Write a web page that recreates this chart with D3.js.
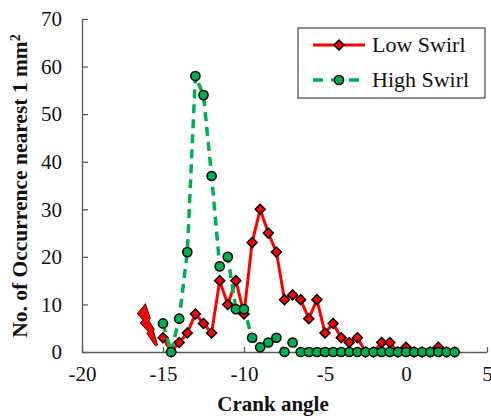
<!DOCTYPE html>
<html><head><meta charset="utf-8">
<script src="https://cdn.jsdelivr.net/npm/d3@7"></script>
<style>
html,body{margin:0;padding:0;background:#fff;}
svg{display:block;}
svg text{font-family:"Liberation Serif","Times New Roman",Tinos,"DejaVu Serif","Noto Serif",serif !important;}
</style></head>
<body>
<svg id="chart" width="491" height="416"></svg>
<script>
// Data
const crankAngles = [-15,-14.5,-14,-13.5,-13,-12.5,-12,-11.5,-11,-10.5,-10,-9.5,-9,-8.5,-8,-7.5,-7,-6.5,-6,-5.5,-5,-4.5,-4,-3.5,-3,-2.5,-2,-1.5,-1,-0.5,0,0.5,1,1.5,2,2.5,3];
const lowSwirl  = [3,0,2,4,8,6,4,15,10,15,8,23,30,25,21,11,12,11,7,11,4,6,3,2,3,0,0,2,2,0,1,0,0,0,1,0,0];
const highSwirl = [6,0,7,21,58,54,37,18,20,9,9,3,1,2,3,0,2,0,0,0,0,0,0,0,0,0,0,0,0,0,0,0,0,0,0,0,0];
// leading zig-zag fragment of the Low Swirl series (outline of the overlapped marks)
const lowLeadX = [-16.11,-16.48,-16.13,-16.30,-15.80,-15.90,-15.40,-15.66,-15.62,-15.97,-15.86];
const lowLeadY = [9.6,8.1,6.72,6.09,4.3,3.9,1.4,4.3,4.77,6.58,7.08];
const xTicks = [-20,-15,-10,-5,0,5];
const yTicks = [0,10,20,30,40,50,60,70];
const seriesNames = ["Low Swirl","High Swirl"];

const svg = d3.select("#chart");
const x = d3.scaleLinear().domain([-20,5]).range([82,487]);
const y = d3.scaleLinear().domain([0,70]).range([352,19]);
const axisColor = "#595959";
const red = "#ff0000", green = "#00b050";

// axes
const gx = svg.append("g").attr("transform",`translate(0,${y(0)})`)
  .call(d3.axisBottom(x).tickValues(xTicks).tickSizeInner(-5).tickSizeOuter(0).tickPadding(14).tickFormat(d=>String(d)));
const gy = svg.append("g").attr("transform",`translate(${x(-20)},0)`)
  .call(d3.axisLeft(y).tickValues(yTicks).tickSizeInner(-6).tickSizeOuter(0).tickPadding(20).tickFormat(d=>String(d)));
[gx,gy].forEach(g=>{
  g.attr("font-family",null);
  g.selectAll("path,line").attr("stroke",axisColor).attr("stroke-width",1.3);
  g.selectAll("text").attr("fill","#111").style("font-size","21px");
});

// axis titles
svg.append("text").attr("x",273).attr("y",411).attr("text-anchor","middle")
  .style("font-size","21px").style("font-weight","bold").attr("fill","#111").text("Crank angle");
const yt = svg.append("text").attr("transform","translate(27,186) rotate(-90)").attr("text-anchor","middle")
  .style("font-size","21.5px").style("font-weight","bold").attr("fill","#111");
yt.append("tspan").text("No. of Occurrence nearest 1 mm");
yt.append("tspan").attr("dy","-7").style("font-size","14px").text("2");

const lowData = crankAngles.map((c,i)=>[c,lowSwirl[i]]);
const highData = crankAngles.map((c,i)=>[c,highSwirl[i]]);
const leadData = lowLeadX.map((c,i)=>[c,lowLeadY[i]]);
const line = d3.line().x(d=>x(d[0])).y(d=>y(d[1]));

// low swirl lead fragment
svg.append("path").attr("d",line(leadData)+"Z")
  .attr("fill",red).attr("stroke","#200").attr("stroke-width",3.2).attr("stroke-linejoin","miter");
svg.append("path").attr("d",line(leadData)+"Z")
  .attr("fill",red).attr("stroke",red).attr("stroke-width",1.8).attr("stroke-linejoin","miter");

// low swirl line
svg.append("path").datum(lowData).attr("d",line).attr("fill","none").attr("stroke",red).attr("stroke-width",3);
svg.append("g").selectAll("path").data(lowData).join("path")
  .attr("d",d3.symbol().type(d3.symbolSquare).size(50))
  .attr("transform",d=>`translate(${x(d[0])},${y(d[1])}) rotate(45)`)
  .attr("fill",red).attr("stroke","#000").attr("stroke-width",1.5);

// high swirl line
svg.append("path").datum(highData).attr("d",line).attr("fill","none").attr("stroke",green).attr("stroke-width",3.5)
  .attr("stroke-dasharray","9,6");
svg.append("g").selectAll("circle").data(highData).join("circle")
  .attr("cx",d=>x(d[0])).attr("cy",d=>y(d[1])).attr("r",4.6)
  .attr("fill",green).attr("stroke","#000").attr("stroke-width",1.5);

// legend
const lg = svg.append("g");
lg.append("rect").attr("x",298).attr("y",28).attr("width",187).attr("height",70)
  .attr("fill","#fff").attr("stroke","#222").attr("stroke-width",1);
lg.append("line").attr("x1",313).attr("x2",365).attr("y1",45).attr("y2",45).attr("stroke",red).attr("stroke-width",3);
lg.append("path").attr("d",d3.symbol().type(d3.symbolSquare).size(50)).attr("transform","translate(339,45) rotate(45)")
  .attr("fill",red).attr("stroke","#000").attr("stroke-width",1.5);
lg.append("line").attr("x1",313).attr("x2",365).attr("y1",80).attr("y2",80).attr("stroke",green).attr("stroke-width",3.5)
  .attr("stroke-dasharray","10,8");
lg.append("circle").attr("cx",339).attr("cy",80).attr("r",4.6).attr("fill",green).attr("stroke","#000").attr("stroke-width",1.5);
lg.selectAll("text.lab").data(seriesNames).join("text").attr("class","lab")
  .attr("x",372).attr("y",(d,i)=>[45,80][i]+7).style("font-size","22px").attr("fill","#111").text(d=>d);
</script>
</body></html>
